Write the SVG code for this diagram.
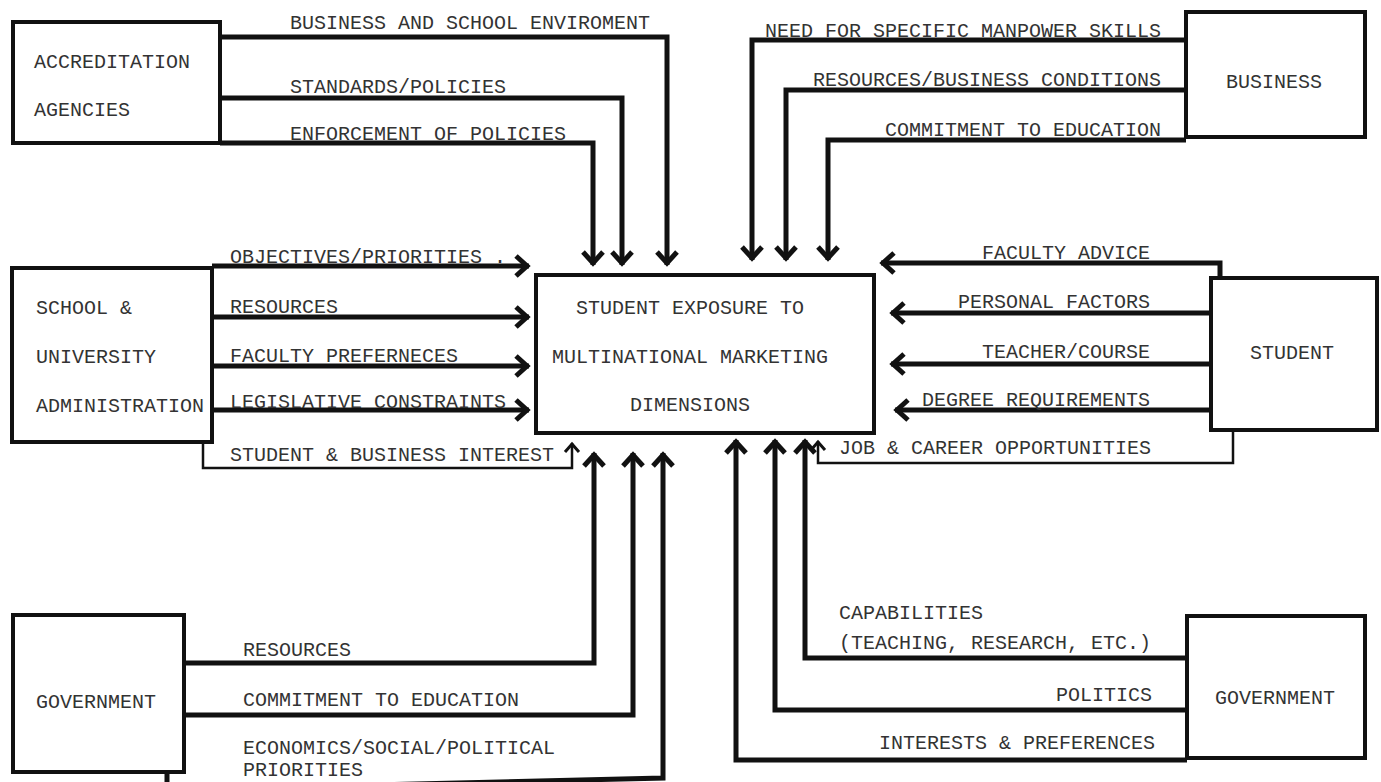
<svg xmlns="http://www.w3.org/2000/svg" width="1381" height="782" viewBox="0 0 1381 782">
<style>
.bg{fill:#ffffff}
.box{fill:#ffffff;stroke:#111;stroke-width:4}
.t{font-family:"Liberation Mono","Courier New",monospace;font-size:20px;fill:#333333}
.e{text-anchor:end}
.m{text-anchor:middle}
.thick{fill:none;stroke:#111;stroke-width:5;marker-end:url(#ah)}
.thin{fill:none;stroke:#111;stroke-width:2.5;marker-end:url(#ahs)}
</style>
<defs>
<marker id="ah" markerUnits="userSpaceOnUse" markerWidth="40" markerHeight="40" viewBox="-20 -20 40 40" refX="2" refY="0" orient="auto" overflow="visible">
<path d="M-11,-10 L0,0 L-11,10" fill="none" stroke="#111" stroke-width="5"/>
</marker>
<marker id="ahs" markerUnits="userSpaceOnUse" markerWidth="30" markerHeight="30" viewBox="-15 -15 30 30" refX="1" refY="0" orient="auto" overflow="visible">
<path d="M-8,-7 L0,0 L-8,7" fill="none" stroke="#111" stroke-width="3"/>
</marker>
</defs>
<rect class="bg" x="0" y="0" width="1381" height="782"/>

<g id="connectors">
<path class="thick" d="M220,37 H667 V265"/>
<path class="thick" d="M220,98 H622 V265"/>
<path class="thick" d="M220,143 H593 V265"/>
<path class="thick" d="M1186,40 H752 V260"/>
<path class="thick" d="M1186,90 H786 V260"/>
<path class="thick" d="M1186,140 H828 V260"/>
<path class="thick" d="M212,266 H529"/>
<path class="thick" d="M212,317 H529"/>
<path class="thick" d="M212,366 H529"/>
<path class="thick" d="M212,410 H529"/>
<path class="thin" d="M203,442 V468 H572 V443"/>
<path class="thick" d="M1220,278 V263 H881"/>
<path class="thick" d="M1211,313 H891"/>
<path class="thick" d="M1211,364 H891"/>
<path class="thick" d="M1211,410 H895"/>
<path class="thin" d="M1233,430 V463 H818 V441"/>
<path class="thick" d="M184,663 H594 V453"/>
<path class="thick" d="M184,715 H633 V453"/>
<path class="thick" d="M167,772 V790 L663,778 V453"/>
<path class="thick" d="M1187,658 H805 V440"/>
<path class="thick" d="M1187,710 H775 V440"/>
<path class="thick" d="M1187,760 H736 V440"/>
</g>

<g id="labels">
<text class="t" x="290" y="29">BUSINESS AND SCHOOL ENVIROMENT</text>
<text class="t" x="290" y="93">STANDARDS/POLICIES</text>
<text class="t" x="290" y="140">ENFORCEMENT OF POLICIES</text>
<text class="t e" x="1161" y="37">NEED FOR SPECIFIC MANPOWER SKILLS</text>
<text class="t e" x="1161" y="86">RESOURCES/BUSINESS CONDITIONS</text>
<text class="t e" x="1161" y="136">COMMITMENT TO EDUCATION</text>
<text class="t" x="230" y="263">OBJECTIVES/PRIORITIES .</text>
<text class="t" x="230" y="313">RESOURCES</text>
<text class="t" x="230" y="362">FACULTY PREFERNECES</text>
<text class="t" x="230" y="408">LEGISLATIVE CONSTRAINTS</text>
<text class="t" x="230" y="461">STUDENT &amp; BUSINESS INTEREST</text>
<text class="t e" x="1150" y="259">FACULTY ADVICE</text>
<text class="t e" x="1150" y="308">PERSONAL FACTORS</text>
<text class="t e" x="1150" y="358">TEACHER/COURSE</text>
<text class="t e" x="1150" y="406">DEGREE REQUIREMENTS</text>
<text class="t" x="839" y="454">JOB &amp; CAREER OPPORTUNITIES</text>
<text class="t" x="243" y="656">RESOURCES</text>
<text class="t" x="243" y="706">COMMITMENT TO EDUCATION</text>
<text class="t" x="243" y="754">ECONOMICS/SOCIAL/POLITICAL</text>
<text class="t" x="243" y="776">PRIORITIES</text>
<text class="t" x="839" y="619">CAPABILITIES</text>
<text class="t" x="839" y="649">(TEACHING, RESEARCH, ETC.)</text>
<text class="t e" x="1152" y="701">POLITICS</text>
<text class="t e" x="1155" y="749">INTERESTS &amp; PREFERENCES</text>
</g>

<g id="accreditation">
<rect class="box" x="13" y="22" width="207" height="121"/>
<text class="t" x="34" y="68">ACCREDITATION</text>
<text class="t" x="34" y="116">AGENCIES</text>
</g>
<g id="business">
<rect class="box" x="1186" y="12" width="179" height="125"/>
<text class="t" x="1226" y="88">BUSINESS</text>
</g>
<g id="school">
<rect class="box" x="12" y="268" width="200" height="174"/>
<text class="t" x="36" y="314">SCHOOL &amp;</text>
<text class="t" x="36" y="363">UNIVERSITY</text>
<text class="t" x="36" y="412">ADMINISTRATION</text>
</g>
<g id="center">
<rect class="box" x="536" y="275" width="338" height="158"/>
<text class="t m" x="690" y="314">STUDENT EXPOSURE TO</text>
<text class="t m" x="690" y="363">MULTINATIONAL MARKETING</text>
<text class="t m" x="690" y="411">DIMENSIONS</text>
</g>
<g id="student">
<rect class="box" x="1211" y="278" width="166" height="152"/>
<text class="t" x="1250" y="359">STUDENT</text>
</g>
<g id="government-left">
<rect class="box" x="13" y="615" width="171" height="157"/>
<text class="t" x="36" y="708">GOVERNMENT</text>
</g>
<g id="government-right">
<rect class="box" x="1187" y="616" width="178" height="142"/>
<text class="t" x="1215" y="704">GOVERNMENT</text>
</g>
</svg>
